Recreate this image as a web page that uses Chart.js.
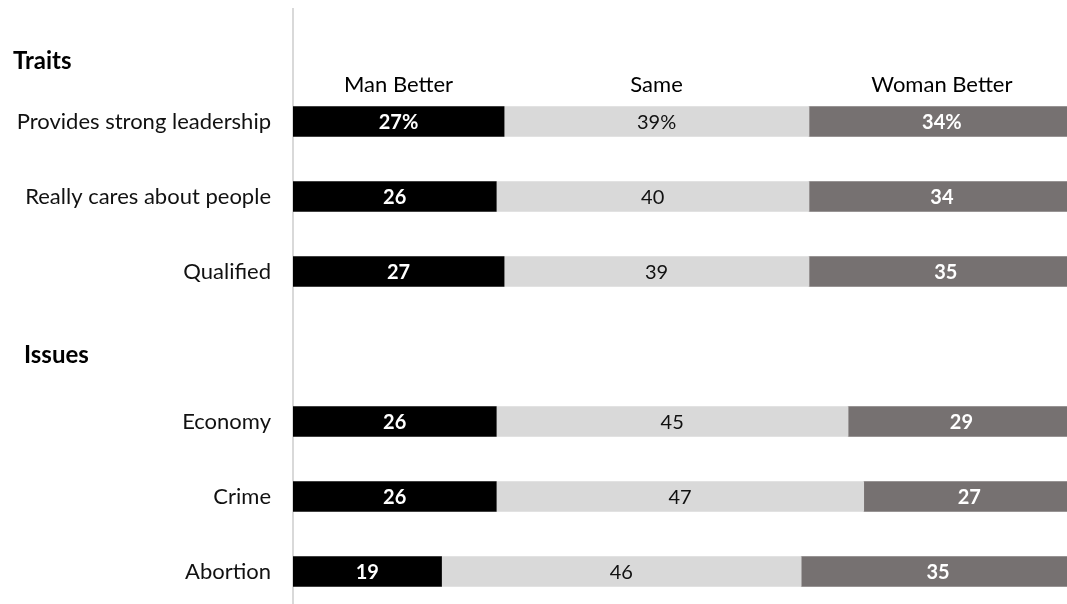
<!DOCTYPE html>
<html>
<head>
<meta charset="utf-8">
<script src="https://cdn.jsdelivr.net/npm/chart.js"></script>
<style>
  html, body { margin: 0; padding: 0; background: #fff; overflow: hidden; }
  canvas { display: block; }
</style>
</head>
<body>
<canvas id="myChart" width="1067" height="612"></canvas>
<script>
// rows ("" = spacer row)
const categories = ['', 'Provides strong leadership', 'Really cares about people', 'Qualified', '', 'Economy', 'Crime', 'Abortion'];
const seriesNames = ['Man Better', 'Same', 'Woman Better'];
const manBetter = [null, 27, 26, 27, null, 26, 26, 19];
const same = [null, 39, 40, 39, null, 45, 47, 46];
const womanBetter = [null, 34, 34, 35, null, 29, 27, 35];
const sections = [{ label: 'Traits', row: 0 }, { label: 'Issues', row: 4 }];

const FONT = 'Lato, "Open Sans", sans-serif';

// labels inside bars, column heads and section heads
const labelsPlugin = {
    id: 'labels',
    afterDatasetsDraw(chart) {
        const ctx = chart.ctx;
        const yScale = chart.scales.y;
        ctx.save();
        ctx.textBaseline = 'middle';
        ctx.textAlign = 'center';
        chart.data.datasets.forEach((ds, di) => {
            const meta = chart.getDatasetMeta(di);
            meta.data.forEach((bar, i) => {
                const v = ds.data[i];
                if (v == null) return;
                const first = i === 1;
                ctx.fillStyle = di === 1 ? '#111' : '#fff';
                ctx.font = (di === 1 ? '400 ' : '700 ') + '20px ' + FONT;
                ctx.fillText(first ? v + '%' : String(v), (bar.x + bar.base) / 2, bar.y + 1);
                if (first) {
                    ctx.fillStyle = '#000';
                    ctx.font = '400 22px ' + FONT;
                    ctx.fillText(ds.label, (bar.x + bar.base) / 2, bar.y - 37);
                }
            });
        });
        ctx.textAlign = 'left';
        ctx.fillStyle = '#000';
        ctx.font = '700 24px ' + FONT;
        ctx.fillText(sections[0].label, 13, yScale.getPixelForValue(sections[0].row) + 15);
        ctx.fillText(sections[1].label, 24, yScale.getPixelForValue(sections[1].row) + 9);
        ctx.restore();
    }
};

new Chart(document.getElementById('myChart'), {
    type: 'bar',
    data: {
        labels: categories,
        datasets: [
            { label: seriesNames[0], data: manBetter, backgroundColor: '#000000' },
            { label: seriesNames[1], data: same, backgroundColor: '#d9d9d9' },
            { label: seriesNames[2], data: womanBetter, backgroundColor: '#767171' }
        ]
    },
    options: {
        indexAxis: 'y',
        responsive: false,
        animation: false,
        layout: { padding: { top: 9, bottom: 3, left: 0, right: 0 } },
        datasets: { bar: { barThickness: 30, borderWidth: 0 } },
        plugins: { legend: { display: false }, tooltip: { enabled: false } },
        scales: {
            x: { stacked: true, min: 0, max: 99, display: false },
            y: {
                stacked: true,
                grid: { display: false, drawTicks: false },
                border: { display: true, color: '#d9d9d9', width: 2 },
                afterFit(s) { s.width = 293; s.paddingTop = 0; s.paddingBottom = 0; },
                ticks: { padding: 22, color: '#111', font: { family: FONT, size: 22 } }
            }
        }
    },
    plugins: [labelsPlugin]
});
</script>
</body>
</html>
